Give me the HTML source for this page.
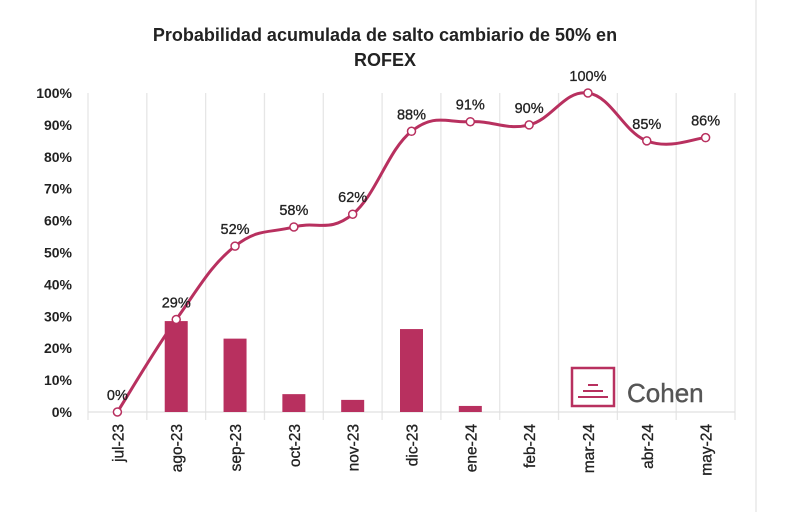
<!DOCTYPE html>
<html><head><meta charset="utf-8"><style>
body{margin:0;background:#fff;font-family:"Liberation Sans",sans-serif}
svg{display:block}
</style></head><body>
<svg id="c" width="800" height="512">
<rect x="0" y="0" width="800" height="512" fill="#fff"/>
<line x1="756" y1="0" x2="756" y2="512" stroke="#eee" stroke-width="2"/>
<text x="385" y="41" text-anchor="middle" font-size="18" font-weight="bold" fill="#222">Probabilidad acumulada de salto cambiario de 50% en</text>
<text x="385" y="66" text-anchor="middle" font-size="18" font-weight="bold" fill="#222">ROFEX</text>
<g id="grid"></g><g id="bars"></g><g id="line"></g><g id="labels"></g>
<g>
<rect x="572" y="368" width="42" height="38" fill="none" stroke="#b8305f" stroke-width="2.5"/>
<rect x="588" y="384" width="10" height="2" fill="#b8305f"/>
<rect x="583" y="390" width="20" height="2" fill="#b8305f"/>
<rect x="578" y="396" width="30" height="2" fill="#b8305f"/>
<text x="627" y="402" font-size="26" fill="#555" stroke="#555" stroke-width="0.4">Cohen</text>
</g>
</svg>
<script>
const categories=["jul-23","ago-23","sep-23","oct-23","nov-23","dic-23","ene-24","feb-24","mar-24","abr-24","may-24"];
const lineValues=[0,29,52,58,62,88,91,90,100,85,86];
const barValues=[0,28.5,23,5.6,3.8,26,1.9,0,0,0,0];
const yTicks=[0,10,20,30,40,50,60,70,80,90,100];
const NS="http://www.w3.org/2000/svg";
const x0=88,x1=735,yb=412,yt=93;
const step=(x1-x0)/categories.length;
const xs=i=>x0+step*(i+0.5);
const ys=v=>yb-(yb-yt)*v/100;
function mk(t,a,p){const e=document.createElementNS(NS,t);for(const k in a)e.setAttribute(k,a[k]);p.appendChild(e);return e;}
const grid=document.getElementById('grid'),bars=document.getElementById('bars'),line=document.getElementById('line'),labels=document.getElementById('labels');
for(let i=0;i<=categories.length;i++){
 const l=mk('line',{x1:x0+step*i,x2:x0+step*i,y1:yt,y2:yb+8,stroke:'#e6e6e6','stroke-width':1.3},grid);
 
 
}
const ax=mk('line',{x1:x0,x2:x1,y1:yb,y2:yb,stroke:'#e0e0e0','stroke-width':1.3},grid);


yTicks.forEach(v=>{
 const t=mk('text',{x:72,y:ys(v)+5,'text-anchor':'end','font-size':14,'font-weight':'bold',fill:'#222'},labels);
 t.textContent=v+'%';
 
 
});
categories.forEach((c,i)=>{
 const t=mk('text',{x:0,y:0,'text-anchor':'end','font-size':15.5,fill:'#222',stroke:'#222','stroke-width':0.3,transform:`translate(${xs(i)+6},${yb+12}) rotate(-90)`},labels);
 t.textContent=c;
 
 
});
barValues.forEach((v,i)=>{
 if(v<=0)return;
 const r=mk('rect',{x:xs(i)-11.5,y:ys(v),width:23,height:yb-ys(v),fill:'#b8305f'},bars);
 
 
});
const P=lineValues.map((v,i)=>[xs(i),ys(v)]);
let d=`M${P[0][0]},${P[0][1]}`;
for(let i=0;i<P.length-1;i++){
 const p0=P[Math.max(0,i-1)],p1=P[i],p2=P[i+1],p3=P[Math.min(P.length-1,i+2)];
 const k=0.2;
 d+=` C${p1[0]+(p2[0]-p0[0])*k},${p1[1]+(p2[1]-p0[1])*k} ${p2[0]-(p3[0]-p1[0])*k},${p2[1]-(p3[1]-p1[1])*k} ${p2[0]},${p2[1]}`;
}
const path=mk('path',{d:d,fill:'none',stroke:'#b8305f','stroke-width':3},line);


lineValues.forEach((v,i)=>{
 const c=mk('circle',{cx:xs(i),cy:ys(v),r:4,fill:'#fff',stroke:'#b8305f','stroke-width':1.5},line);
 
 
 const t=mk('text',{x:xs(i),y:ys(v)-12,'text-anchor':'middle','font-size':14.5,fill:'#222',stroke:'#222','stroke-width':0.3},labels);
 t.textContent=v+'%';
 
 
});
</script>
</body></html>
